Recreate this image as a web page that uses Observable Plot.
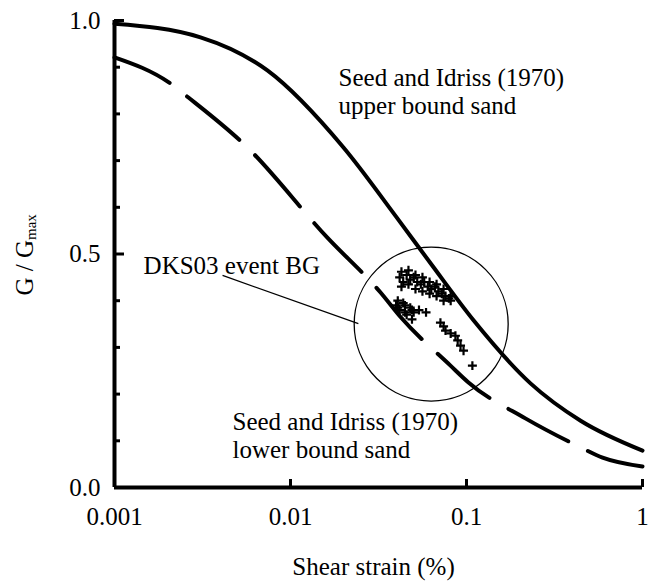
<!DOCTYPE html>
<html><head><meta charset="utf-8">
<script src="https://cdn.jsdelivr.net/npm/d3@7"></script>
<script src="https://cdn.jsdelivr.net/npm/@observablehq/plot@0.6"></script>
<style>
body{margin:0;background:#fff}
#chart svg, #chart svg text, #chart svg tspan {font-family: "Liberation Serif", Tinos, "Times New Roman", Times, "DejaVu Serif", serif !important;}
</style>
</head><body><div id="chart"></div>
<script>
// Seed and Idriss (1970) upper bound sand (solid)
const upperStrain = [0.001, 0.00308, 0.00739, 0.0200, 0.0398, 0.0631, 0.1096, 0.231, 0.445, 1];
const upperG      = [0.993, 0.964,   0.893,   0.728,  0.580,  0.478,  0.358,  0.223, 0.143, 0.079];
// Seed and Idriss (1970) lower bound sand (dashed)
const lowerStrain = [0.001, 0.00208, 0.00263, 0.00555, 0.0162, 0.0324, 0.0422, 0.0811, 0.1026, 0.216, 0.445, 0.593, 1];
const lowerG      = [0.921, 0.865,   0.835,   0.732,   0.535,  0.418,  0.365,  0.261,  0.225,  0.148, 0.086, 0.064, 0.045];
// DKS03 event BG
const dksStrain = [0.0417,0.0437,0.0457,0.0479,0.0501,0.0525,0.0550,0.0575,0.0603,0.0631,0.0661,0.0692,0.0724,0.0759,0.0794,
                   0.0427,0.0427,0.0468,0.0468,0.0513,0.0513,0.0562,0.0562,0.0617,0.0617,0.0676,0.0676,0.0741,0.0741,0.0813,0.0813,
                   0.0398,0.0417,0.0437,0.0457,0.0479,0.0501,
                   0.0407,0.0407,0.0447,0.0447,0.0490,0.0490,0.0537,0.0589,
                   0.0711,0.0741,0.0760,0.0813,0.0865,0.0891,0.0925,0.0962,0.108];
const dksG      = [0.450,0.440,0.455,0.445,0.450,0.440,0.435,0.440,0.430,0.425,0.430,0.420,0.415,0.410,0.405,
                   0.462,0.430,0.465,0.435,0.455,0.425,0.450,0.420,0.440,0.415,0.435,0.410,0.425,0.400,0.410,0.400,
                   0.390,0.380,0.395,0.370,0.385,0.375,
                   0.385,0.400,0.375,0.390,0.380,0.360,0.380,0.375,
                   0.353,0.345,0.336,0.330,0.325,0.315,0.304,0.293,0.261];
const xTicks = [0.001, 0.01, 0.1, 1];
const xTickLabels = ["0.001", "0.01", "0.1", "1"];
const yTicks = [0, 0.5, 1];
const yTickLabels = ["0.0", "0.5", "1.0"];
const yMinor = [0.1, 0.2, 0.3, 0.4, 0.6, 0.7, 0.8, 0.9];

const upper = upperStrain.map((s, i) => ({strain: s, g: upperG[i]}));
const lower = lowerStrain.map((s, i) => ({strain: s, g: lowerG[i]}));
const dks = dksStrain.map((s, i) => ({strain: s, g: dksG[i]}));

const serif = "Liberation Serif, DejaVu Serif, serif";
const chart = Plot.plot({
  width: 648, height: 581,
  marginLeft: 114, marginRight: 6, marginTop: 20, marginBottom: 94,
  style: {fontFamily: serif, fontSize: "25px", background: "white", color: "black"},
  x: {type: "log", domain: [0.001, 1]},
  y: {domain: [0, 1]},
  marks: [
    Plot.axisX(xTicks, {tickSize: -8, tickPadding: 28, strokeWidth: 3, fontSize: 25, fontFamily: serif,
      tickFormat: d => xTickLabels[xTicks.indexOf(d)], label: null}),
    Plot.axisY(yTicks, {tickSize: -10, tickPadding: 24, strokeWidth: 3, fontSize: 25, fontFamily: serif,
      tickFormat: d => yTickLabels[yTicks.indexOf(d)], label: null}),
    Plot.axisY(yMinor, {tickSize: -6, strokeWidth: 3, fill: "none", label: null}),
    Plot.ruleX([0.001], {strokeWidth: 4}),
    Plot.ruleY([0], {strokeWidth: 4}),
    Plot.line(upper, {x: "strain", y: "g", strokeWidth: 4, curve: "monotone-x"}),
    Plot.line(lower, {x: "strain", y: "g", strokeWidth: 4, curve: "monotone-x", strokeDasharray: "68,22", strokeDashoffset: 7}),
    Plot.dot(dks, {x: "strain", y: "g", symbol: "plus", r: 3, stroke: "black", strokeWidth: 2.2}),
    Plot.dot([{strain: 0.063, g: 0.35}], {x: "strain", y: "g", r: 77, stroke: "black", strokeWidth: 1.3, fill: "none"}),
    Plot.link([{x1: 0.00411, y1: 0.454, x2: 0.0243, y2: 0.351}], {x1: "x1", y1: "y1", x2: "x2", y2: "y2", strokeWidth: 1.3}),
    Plot.text(["DKS03 event BG"], {x: () => 0.001463, y: () => 0.475, textAnchor: "start", fontSize: 25}),
    Plot.text(["Seed and Idriss (1970)\nupper bound sand"], {x: () => 0.01875, y: () => 0.903, textAnchor: "start", lineAnchor: "top", lineHeight: 1.12, fontSize: 25}),
    Plot.text(["Seed and Idriss (1970)\nlower bound sand"], {x: () => 0.004683, y: () => 0.1665, textAnchor: "start", lineAnchor: "top", lineHeight: 1.12, fontSize: 25}),
    Plot.text(["Shear strain (%)"], {frameAnchor: "bottom", dy: 87, dx: -5, fontSize: 25}),
    Plot.text(["G / G"], {frameAnchor: "left", dx: -90, dy: 41.5, rotate: -90, textAnchor: "start", fontSize: 25}),
    Plot.text(["max"], {frameAnchor: "left", dx: -83, dy: -14, rotate: -90, textAnchor: "start", fontSize: 15})
  ]
});
document.getElementById("chart").appendChild(chart);
</script>
</body></html>
